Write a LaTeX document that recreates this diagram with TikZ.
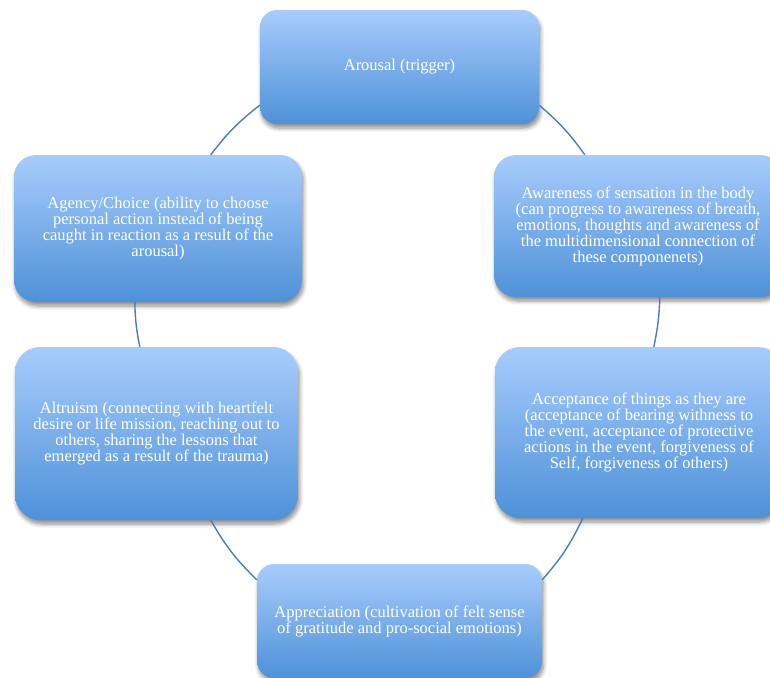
\documentclass[tikz,border=0pt]{standalone}
\usepackage{fontspec}
\setmainfont{Liberation Serif}
\usetikzlibrary{shadows,shadows.blur}
\definecolor{boxtop}{HTML}{A8CCFC}
\definecolor{boxbot}{HTML}{4E91D8}
\definecolor{ringcol}{HTML}{4A7EBB}
\tikzset{
  stagebox/.style={draw=none, top color=boxtop, bottom color=boxbot,
    blur shadow={shadow xshift=1.5pt, shadow yshift=-4pt, shadow blur steps=6, shadow opacity=45, shadow blur radius=4pt},
    text=white, align=center, inner sep=0pt, anchor=center,
    font=\fontsize{16.5}{16}\selectfont},
  ring/.style={draw=ringcol, line width=1.4pt}
}
\begin{document}
\begin{tikzpicture}[x=1pt,y=-1pt]
\useasboundingbox (0,0) rectangle (770,677);
\clip (0,0) rectangle (770,677);
\node[stagebox, minimum width=279pt, minimum height=114pt, rounded corners=17pt] (arousal) at (399.5,67) {Arousal (trigger)};
\node[stagebox, minimum width=288pt, minimum height=142pt, rounded corners=22pt] (awareness) at (638,226) {Awareness of sensation in the body\\(can progress to awareness of breath,\\emotions, thoughts and awareness of\\the multidimensional connection of\\these componenets)};
\node[stagebox, minimum width=288pt, minimum height=147pt, rounded corners=22pt] (agency) at (158,228.5) {Agency/Choice (ability to choose\\personal action instead of being\\caught in reaction as a result of the\\arousal)};
\node[stagebox, minimum width=283pt, minimum height=173pt, rounded corners=25pt] (altruism) at (156.5,433.5) {Altruism (connecting with heartfelt\\desire or life mission, reaching out to\\others, sharing the lessons that\\emerged as a result of the trauma)};
\node[stagebox, minimum width=288pt, minimum height=171pt, rounded corners=25pt] (acceptance) at (639,432.5) {Acceptance of things as they are\\(acceptance of bearing withness to\\the event, acceptance of protective\\actions in the event, forgiveness of\\Self, forgiveness of others)};
\node[stagebox, minimum width=285pt, minimum height=114pt, rounded corners=17pt] (appreciation) at (399.5,621) {Appreciation (cultivation of felt sense\\of gratitude and pro-social emotions)};
\draw[ring] ([yshift=19pt]arousal.south east) to[bend left=7] ([xshift=91pt]awareness.north west);
\draw[ring] ([xshift=166pt]awareness.south west) to[bend left=5] ([xshift=159pt]acceptance.north west);
\draw[ring] ([xshift=88pt]acceptance.south west) to[bend left=8] ([yshift=-16pt]appreciation.north east);
\draw[ring] ([yshift=-16pt]appreciation.north west) to[bend left=8] ([xshift=196pt]altruism.south west);
\draw[ring] ([xshift=125pt]altruism.north west) to[bend left=5] ([xshift=121pt]agency.south west);
\draw[ring] ([xshift=197pt]agency.north west) to[bend left=7.5] ([yshift=19pt]arousal.south west);
\end{tikzpicture}
\end{document}
